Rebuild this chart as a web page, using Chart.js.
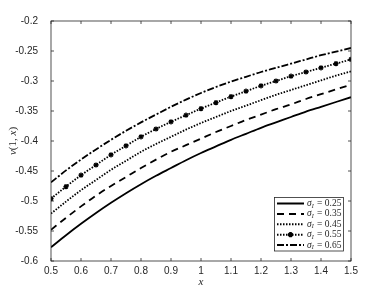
<!DOCTYPE html>
<html>
<head>
<meta charset="utf-8">
<script src="https://cdn.jsdelivr.net/npm/chart.js@4.4.1/dist/chart.umd.min.js"></script>
<style>
  html, body { margin: 0; padding: 0; background: #fff; }
  #wrap { width: 388px; height: 291px; }
</style>
</head>
<body>
<div id="wrap"><canvas id="chart"></canvas></div>
<script>
// x grid of the curves
const xValues = [0.5, 0.55, 0.6, 0.65, 0.7, 0.75, 0.8, 0.85, 0.9, 0.95, 1.0,
                 1.05, 1.1, 1.15, 1.2, 1.25, 1.3, 1.35, 1.4, 1.45, 1.5];

const sigmaLabels = ['0.25', '0.35', '0.45', '0.55', '0.65'];

// v(1,x) for each sigma_I
const vSigma025 = [-0.577, -0.557, -0.538, -0.520, -0.503, -0.487, -0.472, -0.458, -0.445, -0.432, -0.420,
                   -0.409, -0.398, -0.388, -0.378, -0.369, -0.360, -0.351, -0.343, -0.335, -0.327];
const vSigma035 = [-0.548, -0.528, -0.509, -0.491, -0.475, -0.460, -0.445, -0.431, -0.418, -0.407, -0.396,
                   -0.385, -0.375, -0.365, -0.356, -0.347, -0.339, -0.330, -0.322, -0.314, -0.306];
const vSigma045 = [-0.521, -0.501, -0.482, -0.465, -0.448, -0.433, -0.418, -0.405, -0.393, -0.381, -0.370,
                   -0.360, -0.350, -0.341, -0.332, -0.323, -0.315, -0.307, -0.299, -0.291, -0.284];
const vSigma055 = [-0.496, -0.476, -0.457, -0.440, -0.423, -0.408, -0.393, -0.380, -0.368, -0.357, -0.346,
                   -0.336, -0.326, -0.317, -0.308, -0.300, -0.292, -0.285, -0.278, -0.271, -0.264];
const vSigma065 = [-0.469, -0.449, -0.431, -0.414, -0.398, -0.383, -0.369, -0.356, -0.343, -0.331, -0.320,
                   -0.310, -0.301, -0.293, -0.285, -0.278, -0.271, -0.264, -0.257, -0.251, -0.245];

const xTicks = [0.5, 0.6, 0.7, 0.8, 0.9, 1, 1.1, 1.2, 1.3, 1.4, 1.5];
const xTickLabels = ['0.5', '0.6', '0.7', '0.8', '0.9', '1', '1.1', '1.2', '1.3', '1.4', '1.5'];
const yTicks = [-0.6, -0.55, -0.5, -0.45, -0.4, -0.35, -0.3, -0.25, -0.2];
const yTickLabels = ['-0.6', '-0.55', '-0.5', '-0.45', '-0.4', '-0.35', '-0.3', '-0.25', '-0.2'];

const AXIS_COLOR = '#262626';
const SERIF = '"Liberation Serif", "DejaVu Serif", serif';

function toPoints(ys) {
    return xValues.map((x, i) => ({ x: x, y: ys[i] }));
}

const lineStyles = [
    { dash: [], point: false },
    { dash: [7, 5], point: false },
    { dash: [1.5, 1.5], point: false },
    { dash: [1.5, 1.5], point: true },
    { dash: [7, 2, 2, 2], point: false }
];
const seriesValues = [vSigma025, vSigma035, vSigma045, vSigma055, vSigma065];

const datasets = seriesValues.map((vals, i) => ({
    label: 'sigma_I = ' + sigmaLabels[i],
    data: toPoints(vals),
    borderColor: '#000',
    backgroundColor: '#000',
    borderWidth: 1.8,
    borderDash: lineStyles[i].dash,
    borderCapStyle: 'butt',
    cubicInterpolationMode: 'monotone',
    pointRadius: lineStyles[i].point ? 2.6 : 0,
    pointStyle: 'star',
    pointBorderWidth: 1.3,
    pointBorderColor: '#000'
}));

// draw a string made of parts with their own fonts, centred on (cx, cy)
function drawParts(ctx, parts, cx, cy) {
    let total = 0;
    parts.forEach(p => { ctx.font = p.font; total += ctx.measureText(p.t).width; });
    let x = cx - total / 2;
    parts.forEach(p => {
        ctx.font = p.font;
        ctx.fillText(p.t, x, cy + (p.dy || 0));
        x += ctx.measureText(p.t).width;
    });
}

const framePlugin = {
    id: 'frame',
    afterDraw(chart) {
        const ctx = chart.ctx;
        const a = chart.chartArea;
        const xs = chart.scales.x;
        const ys = chart.scales.y;
        ctx.save();

        // box and inward ticks
        ctx.strokeStyle = AXIS_COLOR;
        ctx.lineWidth = 0.8;
        ctx.setLineDash([]);
        ctx.strokeRect(a.left, a.top, a.right - a.left, a.bottom - a.top);
        ctx.beginPath();
        xTicks.forEach(t => {
            const px = xs.getPixelForValue(t);
            ctx.moveTo(px, a.bottom); ctx.lineTo(px, a.bottom - 3);
            ctx.moveTo(px, a.top); ctx.lineTo(px, a.top + 3);
        });
        yTicks.forEach(t => {
            const py = ys.getPixelForValue(t);
            ctx.moveTo(a.left, py); ctx.lineTo(a.left + 3, py);
            ctx.moveTo(a.right, py); ctx.lineTo(a.right - 3, py);
        });
        ctx.stroke();

        // axis titles
        ctx.fillStyle = AXIS_COLOR;
        ctx.textBaseline = 'middle';
        ctx.textAlign = 'left';
        drawParts(ctx, [{ t: 'x', font: 'italic 11px ' + SERIF }], (a.left + a.right) / 2, 282);
        ctx.save();
        ctx.translate(13, (a.top + a.bottom) / 2);
        ctx.rotate(-Math.PI / 2);
        drawParts(ctx, [
            { t: 'v', font: 'italic 11px ' + SERIF },
            { t: '(1, ', font: '11px ' + SERIF },
            { t: 'x', font: 'italic 11px ' + SERIF },
            { t: ')', font: '11px ' + SERIF }
        ], 0, 0);
        ctx.restore();

        // legend box
        const bx = 274.5, by = 197.5, bw = 69, bh = 53.5;
        ctx.fillStyle = '#fff';
        ctx.fillRect(bx, by, bw, bh);
        ctx.strokeStyle = AXIS_COLOR;
        ctx.lineWidth = 0.8;
        ctx.strokeRect(bx, by, bw, bh);
        chart.data.datasets.forEach((ds, i) => {
            const y = by + 6 + i * 10.4;
            ctx.strokeStyle = '#000';
            ctx.lineWidth = 2;
            ctx.setLineDash(ds.borderDash);
            ctx.lineCap = 'butt';
            ctx.beginPath();
            ctx.moveTo(bx + 2.5, y);
            ctx.lineTo(bx + 29.5, y);
            ctx.stroke();
            ctx.setLineDash([]);
            if (ds.pointRadius > 0) {
                Chart.helpers.drawPoint(ctx, {
                    pointStyle: 'star', radius: 2.6, borderWidth: 1.3
                }, bx + 16, y);
            }
            ctx.fillStyle = AXIS_COLOR;
            ctx.textAlign = 'left';
            let tx = bx + 32.5;
            ctx.font = 'italic 9.5px ' + SERIF;
            ctx.fillText('\u03c3', tx, y);
            tx += ctx.measureText('\u03c3').width;
            ctx.font = 'italic 6px ' + SERIF;
            ctx.fillText('I', tx, y + 2.5);
            tx += ctx.measureText('I').width + 1;
            ctx.font = '9.5px ' + SERIF;
            ctx.fillText(' = ' + sigmaLabels[i], tx, y);
        });
        ctx.restore();
    }
};

new Chart(document.getElementById('chart'), {
    type: 'line',
    data: { datasets: datasets },
    options: {
        responsive: true,
        maintainAspectRatio: false,
        animation: false,
        layout: { padding: { top: 21, right: 37, left: 0, bottom: 0 } },
        plugins: {
            legend: { display: false },
            tooltip: { enabled: false }
        },
        scales: {
            x: {
                type: 'linear',
                min: 0.5,
                max: 1.5,
                grid: { display: false, drawTicks: false },
                border: { display: false },
                afterBuildTicks: scale => { scale.ticks = xTicks.map(v => ({ value: v })); },
                afterFit: scale => { scale.height = 30; },
                ticks: {
                    padding: 4,
                    color: AXIS_COLOR,
                    font: { family: '"Liberation Sans", Arial, sans-serif', size: 10 },
                    callback: (value, index) => xTickLabels[index]
                }
            },
            y: {
                min: -0.6,
                max: -0.2,
                grid: { display: false },
                border: { display: false },
                afterBuildTicks: scale => { scale.ticks = yTicks.map(v => ({ value: v })); },
                afterFit: scale => { scale.width = 51; },
                ticks: {
                    padding: 5,
                    color: AXIS_COLOR,
                    font: { family: '"Liberation Sans", Arial, sans-serif', size: 10 },
                    callback: (value, index) => yTickLabels[index]
                }
            }
        }
    },
    plugins: [framePlugin]
});
</script>
</body>
</html>
